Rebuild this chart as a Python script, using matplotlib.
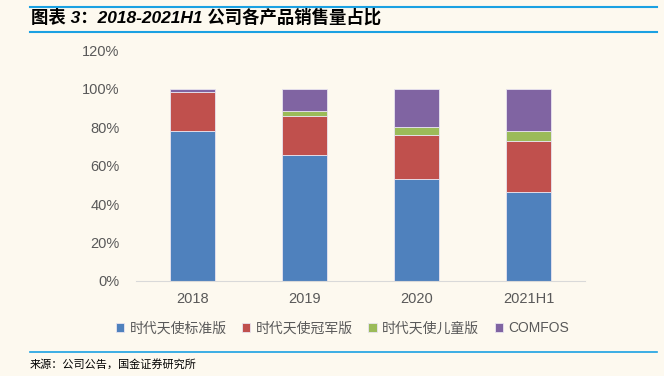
import numpy as np
import matplotlib.pyplot as plt
from matplotlib.ticker import PercentFormatter
from matplotlib.lines import Line2D

plt.rcParams['font.family'] = ['Liberation Sans', 'Noto Sans CJK SC', 'DejaVu Sans']

# share of sales volume by product, %
categories = ['2018', '2019', '2020', '2021H1']
series_names = ['时代天使标准版', '时代天使冠军版', '时代天使儿童版', 'COMFOS']
standard = [78.0, 65.4, 52.8, 46.5]
champion = [20.1, 20.6, 23.2, 26.3]
kids = [0.0, 2.1, 3.8, 5.2]
comfos = [1.9, 11.9, 20.2, 22.0]
colors = ['#4F81BD', '#C0504D', '#9BBB59', '#8064A2']

bg = '#FDF9EF'
fig = plt.figure(figsize=(6.64, 3.76), dpi=100, facecolor=bg)
ax = fig.add_axes([0.205, 0.2527, 0.676, 0.614], facecolor=bg)

x = np.arange(len(categories))
bottom = np.zeros(len(categories))
for vals, name, c in zip([standard, champion, kids, comfos], series_names, colors):
    ax.bar(x, vals, 0.4, bottom=bottom, color=c, label=name,
           edgecolor='#E8E4F0', linewidth=0.6)
    bottom += np.array(vals)

ax.set_xlim(-0.5, len(categories) - 0.5)
ax.set_ylim(0, 120)
ax.set_yticks(np.arange(0, 121, 20))
ax.yaxis.set_major_formatter(PercentFormatter(decimals=0))
ax.set_xticks(x)
ax.set_xticklabels(categories)
ax.tick_params(axis='both', length=0, labelsize=10.5, colors='#595959')
ax.tick_params(axis='y', pad=12)
ax.tick_params(axis='x', pad=8)
for s in ['top', 'right', 'left']:
    ax.spines[s].set_visible(False)
ax.spines['bottom'].set_color('#D9D9D9')

ax.legend(loc='center', bbox_to_anchor=(0.46, -0.205), ncol=4, frameon=False,
          fontsize=10, handlelength=0.6, handleheight=0.6, handletextpad=0.4,
          columnspacing=1.1, labelcolor='#595959')

# header and footer
line_c = '#1BA1E2'
fig.add_artist(Line2D([0.045, 0.99], [1 - 7/376, 1 - 7/376], color=line_c, lw=1.5))
fig.add_artist(Line2D([0.045, 0.99], [1 - 32/376, 1 - 32/376], color=line_c, lw=1.5))
fig.add_artist(Line2D([0.045, 0.99], [1 - 352/376, 1 - 352/376], color=line_c, lw=1.2))
fig.text(0.047, 1 - 17/376, '图表 3：2018-2021H1 公司各产品销售量占比', fontsize=12.5,
         fontweight='bold', style='italic', va='center', ha='left', color='black')
fig.text(0.045, 1 - 364/376, '来源：公司公告，国金证券研究所', fontsize=8,
         va='center', ha='left', color='black')

fig.savefig('out.png', dpi=100, facecolor=bg)
